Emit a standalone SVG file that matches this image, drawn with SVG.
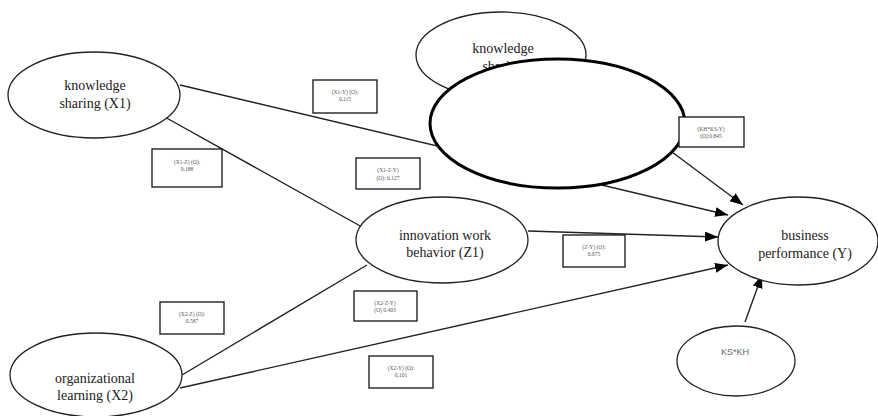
<svg xmlns="http://www.w3.org/2000/svg" width="878" height="416" viewBox="0 0 878 416">
<style>
.node{fill:#fff;stroke:#222;stroke-width:1.3}
.bold{fill:#fff;stroke:#000;stroke-width:3}
.lbl{font-family:"Liberation Serif",serif;font-size:14px;fill:#222;text-anchor:middle}
.sans{font-family:"Liberation Sans",sans-serif;font-size:9px;fill:#666;text-anchor:middle}
.box{fill:#fff;stroke:#111;stroke-width:1.3}
.bt{font-family:"Liberation Serif",serif;font-size:5.5px;fill:#555;text-anchor:middle}
.ln{stroke:#222;stroke-width:1.4;fill:none}
</style>
<defs>
<marker id="ah" markerUnits="userSpaceOnUse" markerWidth="14" markerHeight="12" refX="13" refY="5" orient="auto">
<path d="M0,0 L13,5 L0,10 z" fill="#000"/>
</marker>
</defs>
<rect width="878" height="416" fill="#fff"/>
<g id="connectors">
<line class="ln" x1="180" y1="85" x2="728" y2="215" marker-end="url(#ah)"/>
<line class="ln" x1="163" y1="116" x2="362" y2="227"/>
<line class="ln" x1="182" y1="375" x2="367" y2="265"/>
<line class="ln" x1="528" y1="231" x2="718" y2="237" marker-end="url(#ah)"/>
<line class="ln" x1="180" y1="388" x2="728" y2="265" marker-end="url(#ah)"/>
<line class="ln" x1="745" y1="322" x2="762" y2="275" marker-end="url(#ah)"/>
<line class="ln" x1="672" y1="152" x2="743" y2="205" marker-end="url(#ah)"/>
</g>
<g id="n-ks-top">
<ellipse class="node" cx="501" cy="55" rx="85" ry="43"/>
<text class="lbl" x="503" y="53">knowledge</text>
<text class="lbl" x="503" y="71">sharing</text>
</g>
<g id="n-moderator">
<ellipse class="bold" cx="557.5" cy="123.5" rx="127.5" ry="64.5"/>
</g>
<g id="n-x1">
<ellipse class="node" cx="94" cy="95" rx="86" ry="43"/>
<text class="lbl" x="95" y="90">knowledge</text>
<text class="lbl" x="95" y="108">sharing (X1)</text>
</g>
<g id="n-z1">
<ellipse class="node" cx="442" cy="240" rx="86" ry="43"/>
<text class="lbl" x="445" y="240">innovation work</text>
<text class="lbl" x="445" y="257">behavior (Z1)</text>
</g>
<g id="n-x2">
<ellipse class="node" cx="96" cy="375" rx="86" ry="42"/>
<text class="lbl" x="95" y="383">organizational</text>
<text class="lbl" x="95" y="400">learning (X2)</text>
</g>
<g id="n-y">
<ellipse class="node" cx="798" cy="241" rx="80" ry="44"/>
<text class="lbl" x="805" y="240">business</text>
<text class="lbl" x="805" y="258">performance (Y)</text>
</g>
<g id="n-kskh">
<ellipse class="node" cx="736" cy="361" rx="59" ry="35"/>
<text class="sans" x="735" y="355">KS*KH</text>
</g>
<g id="b-x1y">
<rect class="box" x="313" y="80" width="64" height="33"/>
<text class="bt" x="345" y="94">(X1-Y) (O):</text>
<text class="bt" x="345" y="101">0,115</text>
</g>
<g id="b-x1zy">
<rect class="box" x="356" y="158" width="64" height="31"/>
<text class="bt" x="388" y="172">(X1-Z-Y)</text>
<text class="bt" x="388" y="180">(O): 0,127</text>
</g>
<g id="b-x1z">
<rect class="box" x="152" y="149" width="70" height="38"/>
<text class="bt" x="187" y="164">(X1-Z) (O):</text>
<text class="bt" x="187" y="171">0,188</text>
</g>
<g id="b-zy">
<rect class="box" x="563" y="235" width="62" height="32"/>
<text class="bt" x="594" y="249">(Z-Y) (O):</text>
<text class="bt" x="594" y="256">0.675</text>
</g>
<g id="b-khks">
<rect class="box" x="679" y="117" width="65" height="30"/>
<text class="bt" x="711" y="131">(KH*KS-Y)</text>
<text class="bt" x="711" y="138">(O):0.845</text>
</g>
<g id="b-x2z">
<rect class="box" x="160" y="302" width="64" height="32"/>
<text class="bt" x="192" y="316">(X2-Z) (O):</text>
<text class="bt" x="192" y="323">0,587</text>
</g>
<g id="b-x2zy">
<rect class="box" x="354" y="291" width="63" height="30"/>
<text class="bt" x="385" y="305">(X2-Z-Y)</text>
<text class="bt" x="385" y="312">(O) 0.403</text>
</g>
<g id="b-x2y">
<rect class="box" x="369" y="356" width="64" height="32"/>
<text class="bt" x="401" y="370">(X2-Y) (O):</text>
<text class="bt" x="401" y="377">0,101</text>
</g>
</svg>
